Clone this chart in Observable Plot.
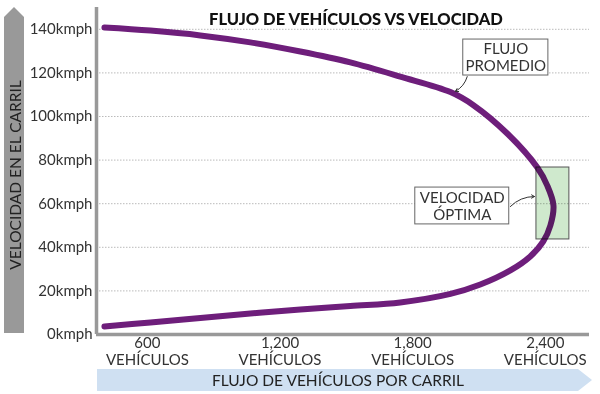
<!DOCTYPE html>
<html><head><meta charset="utf-8">
<script src="https://cdn.jsdelivr.net/npm/d3@7"></script>
<script src="https://cdn.jsdelivr.net/npm/@observablehq/plot@0.6"></script>
<style>
html,body{margin:0;padding:0;background:#fff;}
#chart svg{display:block;}
</style></head><body><div id="chart"></div>
<script>
const title = "FLUJO DE VEHÍCULOS VS VELOCIDAD";
const xLabel = "FLUJO DE VEHÍCULOS POR CARRIL";
const yLabel = "VELOCIDAD EN EL CARRIL";
const xTicks = [600, 1200, 1800, 2400];
const yTicks = [0, 20, 40, 60, 80, 100, 120, 140];
// curve: upper branch (free flow) then lower branch (congested)
const flow  = [406, 614, 840, 1066, 1292, 1518, 1744, 1971, 2075, 2228, 2364, 2409, 2437, 2423, 2391, 2332, 2242, 2106, 1971, 1744, 1518, 1292, 1066, 840, 614, 406];
const speed = [140.8, 139.4, 137.2, 134.0, 129.8, 124.8, 118.3, 111.2, 105.2, 92.2, 76.6, 68.3, 59.2, 50.0, 42.7, 35.8, 29.4, 22.9, 18.6, 14.7, 13.1, 11.5, 9.6, 7.6, 5.5, 3.7];
// annotations
const noteText = ["FLUJO\nPROMEDIO", "VELOCIDAD\nÓPTIMA"];
const noteX1 = [2029, 1812], noteX2 = [2414, 2237];
const noteY1 = [118.8, 50.5], noteY2 = [135.3, 67.4];
const arrowFrom = [[2047, 118.3], [2242, 58.7]];
const arrowTo   = [[1993, 111.5], [2351, 63.3]];
const optimalFlow = [2360, 2509];
const optimalSpeed = [43.6, 76.6];

const curve = flow.map((f, i) => ({flow: f, speed: speed[i]}));
const notes = noteText.map((t, i) => ({t, x1: noteX1[i], x2: noteX2[i], y1: noteY1[i], y2: noteY2[i]}));
const arrows = arrowFrom.map((a, i) => ({x1: a[0], y1: a[1], x2: arrowTo[i][0], y2: arrowTo[i][1]}));

const font = "Lato, 'Open Sans', sans-serif";
const chart = Plot.plot({
  width: 600, height: 394,
  marginLeft: 96, marginRight: 11, marginTop: 7, marginBottom: 60,
  x: {domain: [370, 2600]},
  y: {domain: [0, 150]},
  style: {fontFamily: font, fontSize: "15px", color: "#333", background: "#fff"},
  marks: [
    Plot.gridY(yTicks, {stroke: "#bbb", strokeOpacity: 1, strokeDasharray: "1.5,1.5"}),
    Plot.axisY(yTicks, {tickFormat: d => d + "kmph", tickSize: 0, tickPadding: 4, fontSize: 15, color: "#333", label: null}),
    Plot.axisX(xTicks, {tickFormat: d => d3.format(",")(d) + "\nVEHÍCULOS", tickSize: 0, tickPadding: 1, fontSize: 15, color: "#333", label: null, lineHeight: 1.15}),
    Plot.ruleX([370], {stroke: "#999", strokeWidth: 3.5}),
    Plot.ruleY([0], {stroke: "#999", strokeWidth: 3.5}),
    Plot.line(curve, {x: "flow", y: "speed", curve: "catmull-rom", stroke: "#6e1e7b", strokeWidth: 6}),
    Plot.rect([0], {x1: optimalFlow[0], x2: optimalFlow[1], y1: optimalSpeed[0], y2: optimalSpeed[1], fill: "#cfe9cd", stroke: "#555", strokeWidth: 1, mixBlendMode: "multiply"}),
    Plot.rect(notes, {x1: "x1", x2: "x2", y1: "y1", y2: "y2", fill: "white", stroke: "#666", strokeWidth: 1}),
    Plot.text(notes, {x: d => (d.x1 + d.x2) / 2, y: d => (d.y1 + d.y2) / 2, text: "t", fontSize: 15, fill: "#333", lineHeight: 1.13}),
    Plot.arrow(arrows, {x1: "x1", y1: "y1", x2: "x2", y2: "y2", bend: true, stroke: "#333", strokeWidth: 1, headLength: 5})
  ]
});
document.getElementById("chart").appendChild(chart);

const svg = d3.select(chart);
// y-axis arrow band
svg.append("path").attr("d", "M4,333 L4,17 L14,7 L24,17 L24,333 Z").attr("fill", "#999");
svg.append("text").attr("transform", "translate(15,175) rotate(-90)")
  .attr("text-anchor", "middle").attr("dominant-baseline", "central")
  .attr("font-family", font).attr("font-size", 15.5).attr("fill", "#222").text(yLabel);
// x-axis arrow band
svg.append("path").attr("d", "M97,369 L578,369 L592,380 L578,391 L97,391 Z").attr("fill", "#cfe0f2");
svg.append("text").attr("x", 338).attr("y", 380)
  .attr("text-anchor", "middle").attr("dominant-baseline", "central")
  .attr("font-family", font).attr("font-size", 15.5).attr("fill", "#222").text(xLabel);
// title
svg.append("text").attr("x", 356).attr("y", 19)
  .attr("text-anchor", "middle").attr("dominant-baseline", "central")
  .attr("font-family", font).attr("font-size", 16.5).attr("font-weight", 900).attr("fill", "#111").text(title);
</script>
</body></html>
